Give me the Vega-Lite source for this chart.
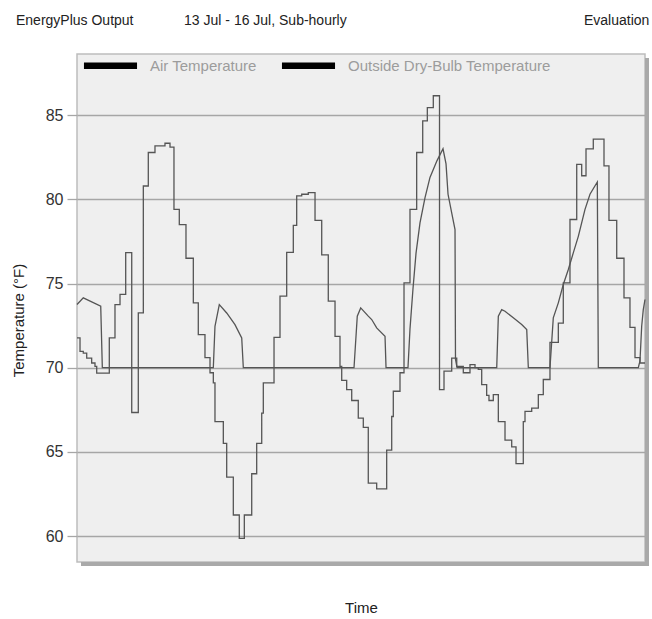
{
  "$schema": "https://vega.github.io/schema/vega-lite/v6.json",
  "width": 568,
  "height": 508,
  "autosize": {"type": "none"},
  "padding": {"left": 77, "top": 54, "right": 7, "bottom": 57},
  "background": "white",
  "title": {
    "text": "EnergyPlus Output\u00a0\u00a0\u00a0\u00a0\u00a0\u00a0\u00a0\u00a0\u00a0\u00a0\u00a0\u00a0\u00a013 Jul - 16 Jul, Sub-hourly\u00a0\u00a0\u00a0\u00a0\u00a0\u00a0\u00a0\u00a0\u00a0\u00a0\u00a0\u00a0\u00a0\u00a0\u00a0\u00a0\u00a0\u00a0\u00a0\u00a0\u00a0\u00a0\u00a0\u00a0\u00a0\u00a0\u00a0\u00a0\u00a0\u00a0\u00a0\u00a0\u00a0\u00a0\u00a0\u00a0\u00a0\u00a0\u00a0\u00a0\u00a0\u00a0\u00a0\u00a0\u00a0\u00a0\u00a0\u00a0\u00a0\u00a0\u00a0\u00a0\u00a0\u00a0\u00a0\u00a0\u00a0\u00a0\u00a0\u00a0\u00a0Evaluation",
    "anchor": "start",
    "frame": "group",
    "dx": -61,
    "offset": 15,
    "baseline": "alphabetic",
    "fontSize": 14,
    "fontWeight": "normal",
    "color": "#222222",
    "font": "Liberation Sans"
  },
  "config": {
    "font": "Liberation Sans",
    "view": {"fill": "#efefef", "stroke": "#bdbdbd", "strokeWidth": 1.5}
  },
  "datasets": {
    "temps": [
      {"series": "Outside Dry-Bulb Temperature", "hour": 0, "temp": 71.77},
      {"series": "Outside Dry-Bulb Temperature", "hour": 0.51, "temp": 70.97},
      {"series": "Outside Dry-Bulb Temperature", "hour": 1.06, "temp": 70.87},
      {"series": "Outside Dry-Bulb Temperature", "hour": 1.64, "temp": 70.57},
      {"series": "Outside Dry-Bulb Temperature", "hour": 2.48, "temp": 70.28},
      {"series": "Outside Dry-Bulb Temperature", "hour": 3.04, "temp": 70.08},
      {"series": "Outside Dry-Bulb Temperature", "hour": 3.33, "temp": 69.68},
      {"series": "Outside Dry-Bulb Temperature", "hour": 5.46, "temp": 71.77},
      {"series": "Outside Dry-Bulb Temperature", "hour": 6.42, "temp": 73.75},
      {"series": "Outside Dry-Bulb Temperature", "hour": 7.27, "temp": 74.35},
      {"series": "Outside Dry-Bulb Temperature", "hour": 8.23, "temp": 76.83},
      {"series": "Outside Dry-Bulb Temperature", "hour": 9.25, "temp": 67.34},
      {"series": "Outside Dry-Bulb Temperature", "hour": 10.36, "temp": 73.25},
      {"series": "Outside Dry-Bulb Temperature", "hour": 11.21, "temp": 80.79},
      {"series": "Outside Dry-Bulb Temperature", "hour": 12.05, "temp": 82.78},
      {"series": "Outside Dry-Bulb Temperature", "hour": 13.18, "temp": 83.17},
      {"series": "Outside Dry-Bulb Temperature", "hour": 14.87, "temp": 83.33},
      {"series": "Outside Dry-Bulb Temperature", "hour": 15.72, "temp": 83.1},
      {"series": "Outside Dry-Bulb Temperature", "hour": 16.39, "temp": 79.4},
      {"series": "Outside Dry-Bulb Temperature", "hour": 17.29, "temp": 78.5},
      {"series": "Outside Dry-Bulb Temperature", "hour": 18.42, "temp": 76.5},
      {"series": "Outside Dry-Bulb Temperature", "hour": 19.66, "temp": 73.85},
      {"series": "Outside Dry-Bulb Temperature", "hour": 20.5, "temp": 71.96},
      {"series": "Outside Dry-Bulb Temperature", "hour": 21.63, "temp": 70.6},
      {"series": "Outside Dry-Bulb Temperature", "hour": 22.48, "temp": 69.7},
      {"series": "Outside Dry-Bulb Temperature", "hour": 23.04, "temp": 69.1},
      {"series": "Outside Dry-Bulb Temperature", "hour": 23.32, "temp": 66.8},
      {"series": "Outside Dry-Bulb Temperature", "hour": 24.73, "temp": 65.5},
      {"series": "Outside Dry-Bulb Temperature", "hour": 25.3, "temp": 63.5},
      {"series": "Outside Dry-Bulb Temperature", "hour": 26.42, "temp": 61.25},
      {"series": "Outside Dry-Bulb Temperature", "hour": 27.43, "temp": 59.86},
      {"series": "Outside Dry-Bulb Temperature", "hour": 28.28, "temp": 61.25},
      {"series": "Outside Dry-Bulb Temperature", "hour": 29.53, "temp": 63.7},
      {"series": "Outside Dry-Bulb Temperature", "hour": 30.37, "temp": 65.5},
      {"series": "Outside Dry-Bulb Temperature", "hour": 31.22, "temp": 67.3},
      {"series": "Outside Dry-Bulb Temperature", "hour": 31.49, "temp": 69.1},
      {"series": "Outside Dry-Bulb Temperature", "hour": 33.3, "temp": 71.8},
      {"series": "Outside Dry-Bulb Temperature", "hour": 34.31, "temp": 74.25},
      {"series": "Outside Dry-Bulb Temperature", "hour": 35.44, "temp": 76.85},
      {"series": "Outside Dry-Bulb Temperature", "hour": 36.56, "temp": 78.45},
      {"series": "Outside Dry-Bulb Temperature", "hour": 37.13, "temp": 80.2},
      {"series": "Outside Dry-Bulb Temperature", "hour": 37.98, "temp": 80.3},
      {"series": "Outside Dry-Bulb Temperature", "hour": 39.09, "temp": 80.4},
      {"series": "Outside Dry-Bulb Temperature", "hour": 40.23, "temp": 78.75},
      {"series": "Outside Dry-Bulb Temperature", "hour": 41.36, "temp": 76.7},
      {"series": "Outside Dry-Bulb Temperature", "hour": 42.47, "temp": 73.95},
      {"series": "Outside Dry-Bulb Temperature", "hour": 43.61, "temp": 71.86},
      {"series": "Outside Dry-Bulb Temperature", "hour": 44.45, "temp": 70.08},
      {"series": "Outside Dry-Bulb Temperature", "hour": 44.74, "temp": 69.25},
      {"series": "Outside Dry-Bulb Temperature", "hour": 45.58, "temp": 68.7},
      {"series": "Outside Dry-Bulb Temperature", "hour": 46.43, "temp": 68.05},
      {"series": "Outside Dry-Bulb Temperature", "hour": 47.54, "temp": 67.0},
      {"series": "Outside Dry-Bulb Temperature", "hour": 48.39, "temp": 66.45},
      {"series": "Outside Dry-Bulb Temperature", "hour": 49.23, "temp": 63.15},
      {"series": "Outside Dry-Bulb Temperature", "hour": 50.65, "temp": 62.8},
      {"series": "Outside Dry-Bulb Temperature", "hour": 52.34, "temp": 65.1},
      {"series": "Outside Dry-Bulb Temperature", "hour": 53.19, "temp": 67.1},
      {"series": "Outside Dry-Bulb Temperature", "hour": 53.46, "temp": 68.6},
      {"series": "Outside Dry-Bulb Temperature", "hour": 54.59, "temp": 69.7},
      {"series": "Outside Dry-Bulb Temperature", "hour": 55.27, "temp": 75.04},
      {"series": "Outside Dry-Bulb Temperature", "hour": 56.28, "temp": 79.4},
      {"series": "Outside Dry-Bulb Temperature", "hour": 57.41, "temp": 82.78},
      {"series": "Outside Dry-Bulb Temperature", "hour": 58.43, "temp": 84.66},
      {"series": "Outside Dry-Bulb Temperature", "hour": 59.21, "temp": 85.45},
      {"series": "Outside Dry-Bulb Temperature", "hour": 60.22, "temp": 86.15},
      {"series": "Outside Dry-Bulb Temperature", "hour": 61.27, "temp": 68.7},
      {"series": "Outside Dry-Bulb Temperature", "hour": 62.03, "temp": 69.8},
      {"series": "Outside Dry-Bulb Temperature", "hour": 63.33, "temp": 70.57},
      {"series": "Outside Dry-Bulb Temperature", "hour": 64.18, "temp": 70.08},
      {"series": "Outside Dry-Bulb Temperature", "hour": 65.29, "temp": 69.7},
      {"series": "Outside Dry-Bulb Temperature", "hour": 66.42, "temp": 70.18},
      {"series": "Outside Dry-Bulb Temperature", "hour": 67.27, "temp": 70.0},
      {"series": "Outside Dry-Bulb Temperature", "hour": 67.82, "temp": 69.9},
      {"series": "Outside Dry-Bulb Temperature", "hour": 68.4, "temp": 69.0},
      {"series": "Outside Dry-Bulb Temperature", "hour": 69.24, "temp": 68.35},
      {"series": "Outside Dry-Bulb Temperature", "hour": 69.63, "temp": 68.05},
      {"series": "Outside Dry-Bulb Temperature", "hour": 70.36, "temp": 68.4},
      {"series": "Outside Dry-Bulb Temperature", "hour": 71.21, "temp": 66.8},
      {"series": "Outside Dry-Bulb Temperature", "hour": 72.34, "temp": 65.7},
      {"series": "Outside Dry-Bulb Temperature", "hour": 73.47, "temp": 65.3},
      {"series": "Outside Dry-Bulb Temperature", "hour": 74.2, "temp": 64.3},
      {"series": "Outside Dry-Bulb Temperature", "hour": 75.43, "temp": 66.8},
      {"series": "Outside Dry-Bulb Temperature", "hour": 75.72, "temp": 67.4},
      {"series": "Outside Dry-Bulb Temperature", "hour": 76.85, "temp": 67.6},
      {"series": "Outside Dry-Bulb Temperature", "hour": 77.97, "temp": 68.4},
      {"series": "Outside Dry-Bulb Temperature", "hour": 78.81, "temp": 69.3},
      {"series": "Outside Dry-Bulb Temperature", "hour": 79.94, "temp": 71.5},
      {"series": "Outside Dry-Bulb Temperature", "hour": 81.35, "temp": 72.65},
      {"series": "Outside Dry-Bulb Temperature", "hour": 82.19, "temp": 75.04},
      {"series": "Outside Dry-Bulb Temperature", "hour": 83.32, "temp": 78.8},
      {"series": "Outside Dry-Bulb Temperature", "hour": 84.46, "temp": 82.08},
      {"series": "Outside Dry-Bulb Temperature", "hour": 85.3, "temp": 81.4},
      {"series": "Outside Dry-Bulb Temperature", "hour": 86.03, "temp": 83.0},
      {"series": "Outside Dry-Bulb Temperature", "hour": 87.26, "temp": 83.57},
      {"series": "Outside Dry-Bulb Temperature", "hour": 89.07, "temp": 81.98},
      {"series": "Outside Dry-Bulb Temperature", "hour": 89.91, "temp": 78.75},
      {"series": "Outside Dry-Bulb Temperature", "hour": 91.22, "temp": 76.5},
      {"series": "Outside Dry-Bulb Temperature", "hour": 92.45, "temp": 74.15},
      {"series": "Outside Dry-Bulb Temperature", "hour": 93.46, "temp": 72.4},
      {"series": "Outside Dry-Bulb Temperature", "hour": 94.31, "temp": 70.6},
      {"series": "Outside Dry-Bulb Temperature", "hour": 95.15, "temp": 70.28},
      {"series": "Outside Dry-Bulb Temperature", "hour": 96.0, "temp": 70.28},
      {"series": "Air Temperature", "hour": 0, "temp": 73.75},
      {"series": "Air Temperature", "hour": 1.06, "temp": 74.15},
      {"series": "Air Temperature", "hour": 4.01, "temp": 73.65},
      {"series": "Air Temperature", "hour": 4.28, "temp": 70.0},
      {"series": "Air Temperature", "hour": 23.04, "temp": 70.0},
      {"series": "Air Temperature", "hour": 23.32, "temp": 72.46},
      {"series": "Air Temperature", "hour": 24.05, "temp": 73.75},
      {"series": "Air Temperature", "hour": 25.3, "temp": 73.25},
      {"series": "Air Temperature", "hour": 26.7, "temp": 72.56},
      {"series": "Air Temperature", "hour": 27.84, "temp": 71.77},
      {"series": "Air Temperature", "hour": 28.11, "temp": 70.0},
      {"series": "Air Temperature", "hour": 46.82, "temp": 70.0},
      {"series": "Air Temperature", "hour": 47.37, "temp": 73.06},
      {"series": "Air Temperature", "hour": 47.95, "temp": 73.55},
      {"series": "Air Temperature", "hour": 49.23, "temp": 73.06},
      {"series": "Air Temperature", "hour": 49.81, "temp": 72.86},
      {"series": "Air Temperature", "hour": 50.65, "temp": 72.36},
      {"series": "Air Temperature", "hour": 52.06, "temp": 71.87},
      {"series": "Air Temperature", "hour": 52.23, "temp": 70.0},
      {"series": "Air Temperature", "hour": 55.94, "temp": 70.0},
      {"series": "Air Temperature", "hour": 56.28, "temp": 72.3},
      {"series": "Air Temperature", "hour": 56.79, "temp": 74.7},
      {"series": "Air Temperature", "hour": 57.3, "temp": 76.8},
      {"series": "Air Temperature", "hour": 57.97, "temp": 78.6},
      {"series": "Air Temperature", "hour": 58.82, "temp": 80.1},
      {"series": "Air Temperature", "hour": 59.66, "temp": 81.3},
      {"series": "Air Temperature", "hour": 60.85, "temp": 82.3},
      {"series": "Air Temperature", "hour": 61.86, "temp": 83.0},
      {"series": "Air Temperature", "hour": 62.37, "temp": 82.1},
      {"series": "Air Temperature", "hour": 62.71, "temp": 80.3},
      {"series": "Air Temperature", "hour": 63.38, "temp": 79.1},
      {"series": "Air Temperature", "hour": 63.89, "temp": 78.2},
      {"series": "Air Temperature", "hour": 63.97, "temp": 70.5},
      {"series": "Air Temperature", "hour": 64.23, "temp": 70.0},
      {"series": "Air Temperature", "hour": 70.94, "temp": 70.0},
      {"series": "Air Temperature", "hour": 71.21, "temp": 73.06},
      {"series": "Air Temperature", "hour": 71.78, "temp": 73.45},
      {"series": "Air Temperature", "hour": 72.34, "temp": 73.35},
      {"series": "Air Temperature", "hour": 73.74, "temp": 72.96},
      {"series": "Air Temperature", "hour": 75.16, "temp": 72.56},
      {"series": "Air Temperature", "hour": 76.01, "temp": 72.26},
      {"series": "Air Temperature", "hour": 76.28, "temp": 70.0},
      {"series": "Air Temperature", "hour": 79.94, "temp": 70.0},
      {"series": "Air Temperature", "hour": 80.5, "temp": 72.96},
      {"series": "Air Temperature", "hour": 81.35, "temp": 73.85},
      {"series": "Air Temperature", "hour": 82.19, "temp": 74.94},
      {"series": "Air Temperature", "hour": 83.04, "temp": 75.83},
      {"series": "Air Temperature", "hour": 83.88, "temp": 76.82},
      {"series": "Air Temperature", "hour": 84.73, "temp": 77.8},
      {"series": "Air Temperature", "hour": 85.86, "temp": 79.4},
      {"series": "Air Temperature", "hour": 86.7, "temp": 80.3},
      {"series": "Air Temperature", "hour": 87.94, "temp": 81.03},
      {"series": "Air Temperature", "hour": 88.11, "temp": 70.0},
      {"series": "Air Temperature", "hour": 94.87, "temp": 70.0},
      {"series": "Air Temperature", "hour": 95.15, "temp": 70.4},
      {"series": "Air Temperature", "hour": 95.44, "temp": 72.46},
      {"series": "Air Temperature", "hour": 95.71, "temp": 73.45},
      {"series": "Air Temperature", "hour": 96.0, "temp": 74.05}
    ]
  },
  "layer": [
    {
      "data": {"values": [{}]},
      "mark": {"type": "rect", "fill": "#a9a9a9", "x2Offset": 4, "yOffset": 4, "y2Offset": 4},
      "encoding": {
        "x": {"datum": 96, "type": "quantitative", "scale": {"domain": [0, 96], "nice": false, "zero": false}},
        "x2": {"datum": 96},
        "y": {"datum": 88.63, "type": "quantitative", "scale": {"domain": [58.46, 88.63], "nice": false, "zero": false}},
        "y2": {"datum": 58.46}
      }
    },
    {
      "data": {"values": [{}]},
      "mark": {"type": "rect", "fill": "#a9a9a9", "xOffset": 4, "x2Offset": 4, "y2Offset": 4},
      "encoding": {
        "x": {"datum": 0, "type": "quantitative"},
        "x2": {"datum": 96},
        "y": {"datum": 58.46, "type": "quantitative"},
        "y2": {"datum": 58.46}
      }
    },
    {
      "data": {"name": "temps"},
      "transform": [{"filter": "datum.series === 'Outside Dry-Bulb Temperature'"}],
      "mark": {"type": "line", "interpolate": "step-after", "strokeWidth": 1.3},
      "encoding": {
        "x": {"field": "hour", "type": "quantitative"},
        "y": {"field": "temp", "type": "quantitative"},
        "color": {"field": "series", "type": "nominal"}
      }
    },
    {
      "data": {"name": "temps"},
      "transform": [{"filter": "datum.series === 'Air Temperature'"}],
      "mark": {"type": "line", "interpolate": "linear", "strokeWidth": 1.3},
      "encoding": {
        "x": {
          "field": "hour",
          "type": "quantitative",
          "axis": {"title": "Time", "labels": false, "ticks": false, "domain": false, "grid": false, "titleFontSize": 15, "titleFontWeight": "normal", "titleColor": "#222222", "titlePadding": 38}
        },
        "y": {
          "field": "temp",
          "type": "quantitative",
          "axis": {
            "title": "Temperature (°F)", "values": [60, 65, 70, 75, 80, 85], "grid": true,
            "gridColor": "#a6a6a6", "gridWidth": 1.3, "tickColor": "#a6a6a6", "tickSize": 10, "tickWidth": 1.3,
            "domain": false, "labelFontSize": 16, "labelColor": "#333333", "labelPadding": 4,
            "titleFontSize": 15, "titleFontWeight": "normal", "titleColor": "#222222",
            "titleAngle": -90, "titleX": -54, "titleY": 266, "titleAlign": "center", "titleBaseline": "alphabetic"
          }
        },
        "color": {
          "field": "series",
          "type": "nominal",
          "scale": {"domain": ["Air Temperature", "Outside Dry-Bulb Temperature"], "range": ["#555555", "#555555"]},
          "legend": {
            "orient": "none", "legendX": 26, "legendY": 4, "direction": "horizontal", "title": null,
            "symbolType": "M-4,-0.5H4V0.5H-4Z", "symbolSize": 176, "symbolStrokeWidth": 0,
            "labelFontSize": 15, "labelColor": "#9c9c9c", "labelOffset": 32, "columnPadding": 24, "padding": 0, "labelLimit": 400,
            "encode": {"symbols": {"update": {"fill": {"value": "#000000"}, "stroke": {"value": "#000000"}, "strokeWidth": {"value": 0}, "opacity": {"value": 1}}}}
          }
        }
      }
    }
  ]
}
